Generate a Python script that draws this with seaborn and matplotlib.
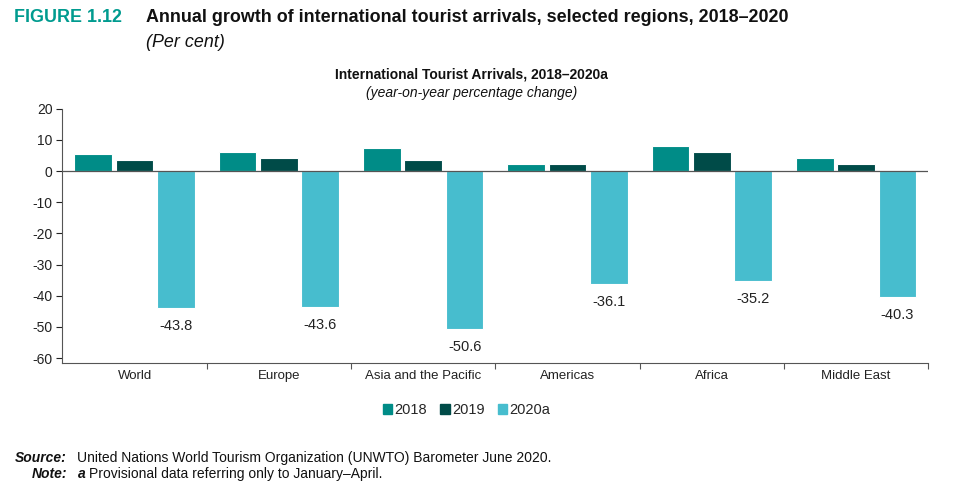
import pandas as pd
import matplotlib
matplotlib.use("Agg")
import matplotlib.pyplot as plt
import seaborn as sns

# ----------------------------------------
# Data
# ----------------------------------------
regions = ["World", "Europe", "Asia and the Pacific", "Americas", "Africa", "Middle East"]
years = ["2018", "2019", "2020a"]
growth_2018 = [5.6, 6.1, 7.5, 2.2, 8.1, 4.3]
growth_2019 = [3.6, 4.2, 3.6, 2.2, 6.1, 2.3]
growth_2020 = [-43.8, -43.6, -50.6, -36.1, -35.2, -40.3]

df = pd.DataFrame({
    "region": regions * 3,
    "year": [years[0]] * 6 + [years[1]] * 6 + [years[2]] * 6,
    "value": growth_2018 + growth_2019 + growth_2020,
})

palette = {"2018": "#008C87", "2019": "#004B48", "2020a": "#47BDCE"}

# ----------------------------------------
# Style
# ----------------------------------------
sns.set_theme(style="white")
plt.rcParams["font.family"] = ["Liberation Sans", "DejaVu Sans"]
plt.rcParams["axes.unicode_minus"] = False

fig = plt.figure(figsize=(9.68, 4.93), dpi=100)
ax = fig.add_axes([0.0645, 0.2637, 0.8945, 0.5158])

sns.barplot(data=df, x="region", y="value", hue="year", palette=palette,
            saturation=1, width=0.86, gap=0.09, edgecolor="white", linewidth=0.8,
            legend=False, ax=ax)

# labels under the 2020 bars
ax.bar_label(ax.containers[2], fmt="%.1f", padding=8, fontsize=10.5, color="#222222")

ax.set_ylim(-61.6, 20)
ax.set_xlim(-0.5, len(regions) - 0.5)
ax.set_yticks(range(-60, 21, 10))
ax.tick_params(axis="y", labelsize=10, colors="#222222", length=4, width=0.8,
               direction="out", left=True, pad=3)
ax.tick_params(axis="x", which="major", length=0, labelsize=9.5, colors="#222222", pad=5)
ax.set_xticks([i - 0.5 for i in range(1, len(regions) + 1)], minor=True)
ax.tick_params(axis="x", which="minor", length=4, width=0.8, color="#555555",
               direction="out", bottom=True)
ax.set_xlabel("")
ax.set_ylabel("")
for s in ["top", "right"]:
    ax.spines[s].set_visible(False)
for s in ["left", "bottom"]:
    ax.spines[s].set_color("#555555")
    ax.spines[s].set_linewidth(0.8)
ax.axhline(0, color="#555555", lw=0.9, zorder=5)

# legend
handles = [plt.Rectangle((0, 0), 1, 1, color=palette[y]) for y in years]
fig.legend(handles, years, loc="center", bbox_to_anchor=(0.482, 0.168), ncol=3,
           frameon=False, fontsize=10.5, handlelength=0.65, handleheight=0.65,
           handletextpad=0.15, columnspacing=0.9)

# ----------------------------------------
# Titles and notes
# ----------------------------------------
fig.text(0.0145, 0.965, "FIGURE 1.12", color="#009B8F", fontsize=12.9,
         fontweight="bold", va="center", ha="left")
fig.text(0.151, 0.965, "Annual growth of international tourist arrivals, selected regions, 2018\u20132020",
         color="#111111", fontsize=12.9, fontweight="bold", va="center", ha="left")
fig.text(0.151, 0.913, "(Per cent)", color="#111111", fontsize=12.9,
         fontstyle="italic", va="center", ha="left")

fig.text(0.487, 0.848, "International Tourist Arrivals, 2018\u20132020a", fontsize=10,
         fontweight="bold", ha="center", va="center", color="#111111")
fig.text(0.487, 0.811, "(year-on-year percentage change)", fontsize=10,
         fontstyle="italic", ha="center", va="center", color="#111111")

fig.text(0.069, 0.071, "Source:", fontsize=10, fontweight="bold", fontstyle="italic",
         ha="right", va="center", color="#111111")
fig.text(0.080, 0.071, "United Nations World Tourism Organization (UNWTO) Barometer June 2020.",
         fontsize=10, ha="left", va="center", color="#111111")
fig.text(0.069, 0.039, "Note:", fontsize=10, fontweight="bold", fontstyle="italic",
         ha="right", va="center", color="#111111")
fig.text(0.080, 0.039, "a", fontsize=10, fontweight="bold", fontstyle="italic",
         ha="left", va="center", color="#111111")
fig.text(0.0915, 0.039, "Provisional data referring only to January\u2013April.",
         fontsize=10, ha="left", va="center", color="#111111")

fig.savefig("out.png", dpi=100)
